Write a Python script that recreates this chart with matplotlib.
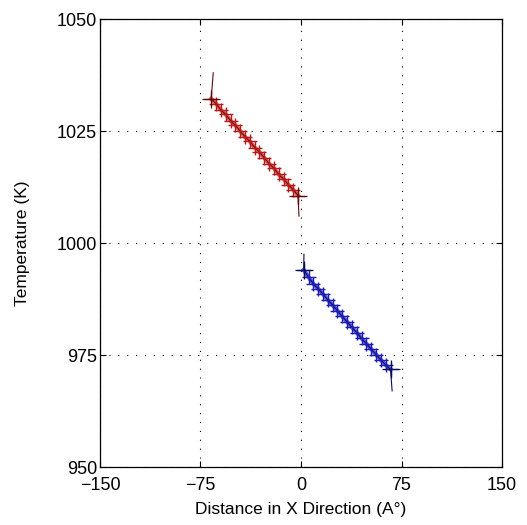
import matplotlib.pyplot as plt

plt.rcParams['font.family'] = ['Liberation Sans', 'DejaVu Sans']

# temperature profile on the left side (hot region)
left_x = [-67, -63.4, -59.8, -56.2, -52.6, -49, -45.4, -41.8, -38.2, -34.6,
          -31, -27.4, -23.8, -20.2, -16.6, -13, -9.4, -5.8, -2.2]
left_t = [1032.2, 1031.1, 1029.7, 1028.7, 1027.3, 1026.3, 1025.0, 1023.7, 1022.7, 1021.3,
          1020.3, 1019.0, 1017.7, 1016.7, 1015.3, 1014.3, 1013.0, 1011.9, 1010.6]

# temperature profile on the right side (cold region)
right_x = [2, 5.6, 9.2, 12.8, 16.4, 20, 23.6, 27.2, 30.8, 34.4,
           38, 41.6, 45.2, 48.8, 52.4, 56, 59.6, 63.2, 66.8]
right_t = [994.0, 992.4, 990.9, 989.8, 988.6, 987.3, 986.1, 984.9, 983.6, 982.4,
           981.2, 980.0, 978.7, 977.5, 976.3, 975.1, 973.9, 972.8, 971.8]

# end points of the fitted curves (they overshoot at the slab edges)
left_fit_start = (-65.5, 1038.0)
left_fit_end = (-1.5, 1006.0)
right_fit_start = (2.2, 997.5)
right_fit_end = (68.0, 967.0)

x_ticks = [-150, -75, 0, 75, 150]
y_ticks = [950, 975, 1000, 1025, 1050]

fig = plt.figure(figsize=(5.27, 5.25), dpi=100)
ax = fig.add_axes([100 / 527, 58 / 525, 402 / 527, 448 / 525])

for xs, ts, start, end, bright_c, mark_c, dark_c in [
        (left_x, left_t, left_fit_start, left_fit_end, '#e83030', '#b41c1c', '#5a0c0c'),
        (right_x, right_t, right_fit_start, right_fit_end, '#3030e8', '#1c1cb0', '#0c0c50')]:
    fx = [start[0]] + xs + [end[0]]
    ft = [start[1]] + ts + [end[1]]
    ax.plot(xs, ts, color=bright_c, lw=3.0, alpha=0.8, zorder=2)
    ax.plot(fx, ft, color=dark_c, lw=0.8, zorder=3)
    ax.plot(xs, ts, '+', color=mark_c, ms=10, mew=1.0, zorder=4)
    ax.plot([xs[0], xs[-1]], [ts[0], ts[-1]], '+', color=dark_c, ms=13, mew=0.9, zorder=4)

ax.set_xlim(-150, 150)
ax.set_ylim(950, 1050)
ax.set_xticks(x_ticks)
ax.set_yticks(y_ticks)
ax.grid(True, color='black', linestyle=(0, (1, 7)), linewidth=0.8)
ax.tick_params(axis='both', direction='in', length=4, width=0.8, labelsize=13,
               top=True, right=True)
ax.tick_params(axis='x', pad=7)
ax.tick_params(axis='y', pad=2)
for s in ax.spines.values():
    s.set_linewidth(0.9)

ax.set_xlabel('Distance in X Direction (A°)', fontsize=12.5, labelpad=6)
ax.set_ylabel('Temperature (K)', fontsize=12.5, labelpad=19)

fig.savefig('out.png', dpi=100, facecolor='white')
